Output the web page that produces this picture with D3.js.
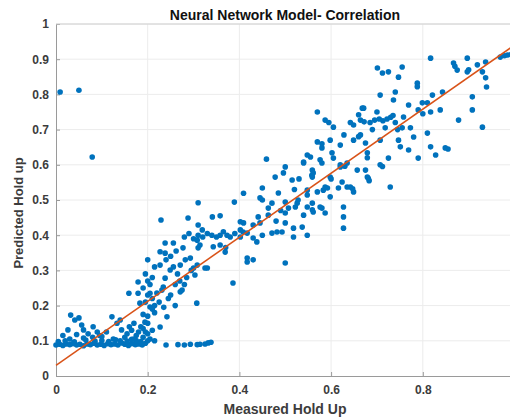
<!DOCTYPE html>
<html>
<head>
<meta charset="utf-8">
<script src="https://cdn.jsdelivr.net/npm/d3@7"></script>
<style>
  body { margin: 0; background: #fff; }
  svg { display: block; font-family: "Liberation Sans", Arial, sans-serif; }
</style>
</head>
<body>
<div id="chart"></div>
<script>
// Measured hold up (x) and predicted hold up (y)
const measured = [
  // floor band
  0.000,0.008,0.015,0.022,0.030,0.037,0.045,0.052,0.060,0.068,0.075,0.083,0.090,0.098,0.105,0.113,0.120,0.128,0.135,0.143,0.150,0.158,0.165,0.173,0.180,0.188,0.195,
  0.005,0.020,0.040,0.065,0.085,0.100,0.115,0.130,0.140,0.155,0.165,0.175,0.185,0.200,
  0.240,0.266,0.280,0.293,0.308,0.314,0.325,0.332,0.338,
  // low scatter
  0.032,0.041,0.056,0.026,0.060,0.081,0.015,0.045,0.070,0.095,0.110,0.122,0.133,0.143,0.140,0.155,0.165,0.175,0.185,0.195,
  0.200,0.183,0.205,0.194,0.159,0.179,0.179,0.190,0.200,0.205,0.195,0.210,0.200,0.215,0.210,0.215,0.125,0.150,0.170,0.190,
  0.060,0.030,0.050,0.160,0.170,0.180,0.190,0.200,0.210,0.215,0.205,0.200,0.210,0.195,0.205,0.190,0.200,0.080,0.090,0.100,
  // 0.2 - 0.35
  0.227,0.238,0.227,0.249,0.242,0.227,0.238,0.256,0.277,0.229,0.238,0.231,0.220,0.234,0.256,0.271,0.282,0.275,0.271,0.288,
  0.260,0.245,0.265,0.285,0.295,0.240,0.250,0.262,0.215,0.225,0.235,0.250,0.260,0.270,0.280,0.300,0.303,0.308,0.293,0.310,
  0.325,0.330,0.307,0.343,0.369,0.314,0.308,0.319,0.310,0.310,0.341,0.358,
  // band near 0.4
  0.280,0.290,0.300,0.310,0.320,0.330,0.340,0.350,0.358,0.365,0.373,0.380,0.390,0.402,0.408,0.417,0.430,0.438,0.450,0.471,
  0.482,0.493,0.518,0.548,0.537,
  // 0.35 - 0.68
  0.386,0.417,0.500,0.358,0.370,0.402,0.389,0.409,0.441,0.430,0.409,0.402,0.445,0.450,0.450,0.445,0.463,0.463,0.471,0.478,
  0.496,0.500,0.459,0.500,0.500,0.500,0.507,0.515,0.518,0.522,0.526,0.528,0.540,0.540,0.548,0.548,0.548,0.559,0.559,0.559,
  0.559,0.561,0.555,0.570,0.570,0.576,0.576,0.580,0.580,0.580,0.583,0.587,0.592,0.598,0.598,0.598,0.605,0.616,0.620,0.620,
  0.627,0.627,0.627,0.628,0.635,0.649,0.649,0.657,0.664,0.675,0.675,0.679,0.624,0.480,0.490,0.520,0.530,0.485,0.417,0.430,
  // 0.55 - 0.86
  0.570,0.587,0.595,0.605,0.548,0.540,0.580,0.602,0.642,0.649,0.668,0.660,0.679,0.679,0.707,0.700,0.707,0.712,0.729,0.620,
  0.630,0.681,0.683,0.600,0.561,0.558,0.587,0.642,0.647,0.635,0.701,0.712,0.725,0.755,0.747,0.788,0.788,0.740,0.736,0.671,
  0.664,0.672,0.685,0.695,0.705,0.713,0.722,0.730,0.758,0.755,0.745,0.773,0.780,0.810,0.747,0.751,0.769,0.725,0.707,0.718,
  0.690,0.660,0.769,0.799,0.810,0.817,0.838,0.790,0.800,0.821,0.843,0.817,0.828,0.849,0.855,0.790,0.817,0.735,0.740,
  // 0.86 - 1
  0.897,0.867,0.875,0.897,0.919,0.937,0.969,0.985,0.993,0.978,0.930,0.937,0.939,0.908,0.908,0.878,0.930,0.870,0.900,
  // outliers
  0.009,0.050,0.079
];
const predicted = [
  0.088,0.090,0.087,0.091,0.089,0.092,0.088,0.090,0.086,0.091,0.089,0.093,0.088,0.090,0.087,0.092,0.089,0.091,0.088,0.094,0.090,0.087,0.092,0.089,0.091,0.088,0.093,
  0.098,0.100,0.097,0.102,0.099,0.101,0.098,0.103,0.100,0.099,0.104,0.101,0.098,0.100,
  0.088,0.089,0.088,0.090,0.089,0.090,0.091,0.094,0.096,
  0.173,0.159,0.145,0.131,0.131,0.140,0.115,0.118,0.120,0.115,0.125,0.168,0.150,0.131,0.159,0.120,0.130,0.115,0.140,0.125,
  0.150,0.207,0.196,0.153,0.235,0.235,0.267,0.175,0.230,0.260,0.290,0.280,0.330,0.310,0.220,0.180,0.105,0.110,0.105,0.110,
  0.108,0.105,0.165,0.140,0.150,0.125,0.135,0.120,0.130,0.100,0.105,0.170,0.190,0.210,0.235,0.250,0.270,0.110,0.125,0.112,
  0.353,0.349,0.315,0.301,0.168,0.139,0.378,0.378,0.364,0.443,0.278,0.244,0.236,0.253,0.310,0.315,0.330,0.244,0.239,0.449,
  0.260,0.220,0.290,0.280,0.300,0.330,0.340,0.355,0.200,0.210,0.195,0.230,0.200,0.270,0.260,0.307,0.287,0.315,0.335,0.364,
  0.307,0.307,0.207,0.367,0.352,0.372,0.386,0.415,0.429,0.492,0.452,0.455,
  0.395,0.405,0.390,0.400,0.395,0.405,0.400,0.395,0.400,0.410,0.400,0.395,0.405,0.395,0.409,0.406,0.392,0.381,0.400,0.406,
  0.409,0.409,0.395,0.400,0.423,
  0.264,0.324,0.321,0.372,0.365,0.438,0.494,0.519,0.452,0.429,0.435,0.415,0.435,0.500,0.534,0.506,0.477,0.457,0.491,0.565,
  0.577,0.594,0.616,0.494,0.463,0.435,0.477,0.557,0.420,0.480,0.491,0.500,0.457,0.605,0.528,0.480,0.514,0.472,0.491,0.585,
  0.565,0.466,0.622,0.665,0.523,0.480,0.614,0.648,0.605,0.477,0.528,0.463,0.534,0.670,0.565,0.509,0.619,0.534,0.656,0.600,
  0.480,0.452,0.420,0.685,0.605,0.670,0.523,0.585,0.685,0.662,0.585,0.565,0.551,0.440,0.470,0.530,0.560,0.520,0.335,0.330,
  0.750,0.727,0.720,0.707,0.628,0.608,0.660,0.634,0.720,0.713,0.761,0.742,0.634,0.620,0.798,0.750,0.600,0.595,0.537,0.594,
  0.596,0.562,0.555,0.560,0.577,0.570,0.537,0.537,0.532,0.537,0.875,0.861,0.864,0.878,0.849,0.832,0.822,0.807,0.784,0.761,
  0.727,0.722,0.720,0.727,0.730,0.725,0.730,0.735,0.736,0.705,0.700,0.705,0.679,0.690,0.670,0.651,0.642,0.619,0.670,0.705,
  0.700,0.680,0.770,0.776,0.776,0.750,0.756,0.756,0.745,0.798,0.807,0.651,0.628,0.648,0.645,0.619,0.903,0.740,0.720,
  0.903,0.889,0.869,0.864,0.884,0.892,0.906,0.912,0.914,0.910,0.864,0.847,0.821,0.793,0.756,0.727,0.707,0.880,0.870,
  0.807,0.812,0.622
];

const xTicks = [0, 0.2, 0.4, 0.6, 0.8];   // 1 falls just past the right edge
const yTicks = [0, 0.1, 0.2, 0.3, 0.4, 0.5, 0.6, 0.7, 0.8, 0.9, 1];
const fitLine = { intercept: 0.03, slope: 0.91 }; // linear fit
const fitRange = [0, 1];

const width = 510, height = 417;

const x = d3.scaleLinear().domain([0, 1]).range([56, 514.5]);
const y = d3.scaleLinear().domain([0, 1]).range([376, 24]);

const svg = d3.select("#chart").append("svg")
    .attr("width", width)
    .attr("height", height);

// grid lines
svg.append("g")
    .selectAll("line")
    .data(xTicks.slice(1))
    .join("line")
    .attr("x1", d => x(d)).attr("x2", d => x(d))
    .attr("y1", y(0)).attr("y2", y(1))
    .attr("stroke", "#ececec");
svg.append("g")
    .selectAll("line")
    .data(yTicks.slice(1))
    .join("line")
    .attr("x1", x(0)).attr("x2", x(1))
    .attr("y1", d => y(d)).attr("y2", d => y(d))
    .attr("stroke", "#ececec");

// axes (ticks point inward like matlab)
const xAxis = svg.append("g")
    .attr("transform", `translate(0,${y(0)})`)
    .call(d3.axisBottom(x).tickValues(xTicks).tickFormat(d3.format("~g")).tickSizeInner(-4).tickSizeOuter(0).tickPadding(9));
const yAxis = svg.append("g")
    .attr("transform", `translate(${x(0)},0)`)
    .call(d3.axisLeft(y).tickValues(yTicks).tickFormat(d3.format("~g")).tickSizeInner(-4).tickSizeOuter(0).tickPadding(7));

// top border
svg.append("line")
    .attr("x1", x(0)).attr("x2", x(1))
    .attr("y1", y(1)).attr("y2", y(1))
    .attr("stroke", "#d0d0d0");

[xAxis, yAxis].forEach(g => {
    g.select(".domain").attr("stroke", "#9a9a9a");
    g.selectAll(".tick line").attr("stroke", "#9a9a9a");
    g.selectAll(".tick text")
        .attr("fill", "#3c3c3c")
        .style("font-size", "12px")
        .style("font-weight", "bold");
});

// points
svg.append("g")
    .selectAll("circle")
    .data(measured.map((m, i) => [m, predicted[i]]))
    .join("circle")
    .attr("cx", d => x(d[0]))
    .attr("cy", d => y(d[1]))
    .attr("r", 2.8)
    .attr("fill", "#0072BD");

// fit line
svg.append("line")
    .attr("x1", x(fitRange[0])).attr("y1", y(fitLine.intercept + fitLine.slope * fitRange[0]))
    .attr("x2", x(fitRange[1])).attr("y2", y(fitLine.intercept + fitLine.slope * fitRange[1]))
    .attr("stroke", "#D95319")
    .attr("stroke-width", 1.5);

// title and labels
svg.append("text")
    .attr("x", 285).attr("y", 20)
    .attr("text-anchor", "middle")
    .style("font-size", "14px").style("font-weight", "bold")
    .attr("fill", "#111")
    .text("Neural Network Model- Correlation");

svg.append("text")
    .attr("x", 285).attr("y", 414)
    .attr("text-anchor", "middle")
    .style("font-size", "14px").style("font-weight", "bold")
    .attr("fill", "#3c3c3c")
    .text("Measured Hold Up");

svg.append("text")
    .attr("transform", "translate(23,213) rotate(-90)")
    .attr("text-anchor", "middle")
    .style("font-size", "13px").style("font-weight", "bold")
    .attr("fill", "#3c3c3c")
    .text("Predicted Hold up");
</script>
</body>
</html>
